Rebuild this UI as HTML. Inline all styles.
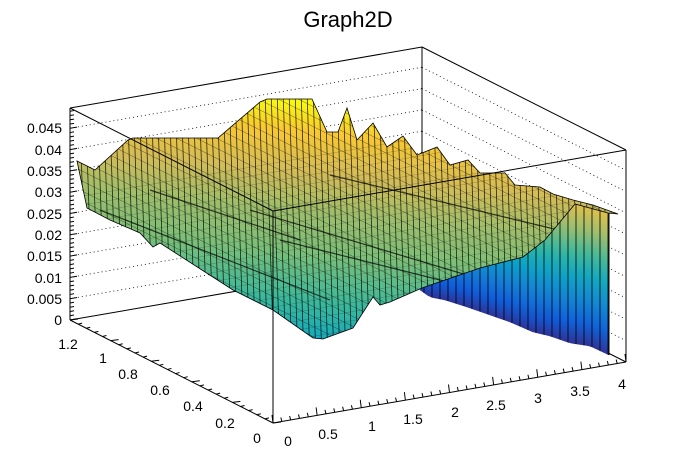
<!DOCTYPE html>
<html><head><meta charset="utf-8"><style>
html,body{margin:0;padding:0;background:#fff;width:696px;height:472px;overflow:hidden;}
svg{display:block;font-family:"Liberation Sans",sans-serif;}
</style></head><body>
<svg id="s" width="696" height="472" viewBox="0 0 696 472" xmlns="http://www.w3.org/2000/svg">
<defs>
<linearGradient id="sg" gradientUnits="userSpaceOnUse" x1="263" y1="481" x2="300" y2="100">
<stop offset="0" stop-color="#352a87"/>
<stop offset="0.25" stop-color="#1481d6"/>
<stop offset="0.37" stop-color="#12a8c0"/>
<stop offset="0.475" stop-color="#3ab89c"/>
<stop offset="0.606" stop-color="#7abf78"/>
<stop offset="0.71" stop-color="#9cbe6c"/>
<stop offset="0.816" stop-color="#d4bc58"/>
<stop offset="0.92" stop-color="#f8c834"/>
<stop offset="1" stop-color="#f9fb0e"/>
</linearGradient>
<clipPath id="cp"><polygon id="cpp"/></clipPath>
</defs>
<text x="348" y="27" font-size="22" text-anchor="middle">Graph2D</text>
<g id="grid" stroke="#000" stroke-width="0.8" stroke-dasharray="1,3" fill="none"></g>
<g stroke="#000" stroke-width="1" fill="none">
<line x1="70" y1="320" x2="422" y2="259"/>
<line x1="422" y1="259" x2="626" y2="362"/>
<line x1="422" y1="47" x2="422" y2="259"/>
</g>
<g id="wall"></g>
<polygon id="surf" fill="url(#sg)" stroke="#000" stroke-width="0.8"/>
<g id="mesh" clip-path="url(#cp)" stroke="#000" fill="none"></g>
<g stroke="#000" stroke-width="1" fill="none">
<line x1="70" y1="108" x2="70" y2="320"/>
<line x1="70" y1="320" x2="273" y2="423"/>
<line x1="273" y1="423" x2="626" y2="362"/>
<line x1="626" y1="362" x2="626" y2="150"/>
<line x1="70" y1="108" x2="422" y2="47"/>
<line x1="422" y1="47" x2="626" y2="150"/>
<line x1="70" y1="108" x2="273" y2="211"/>
<line x1="273" y1="211" x2="626" y2="150"/>
<line x1="273" y1="211" x2="273" y2="423"/>
</g>
<g id="ticks" stroke="#000" stroke-width="1"></g>
<g font-size="14" text-anchor="end">
<text x="62" y="325">0</text><text x="62" y="304">0.005</text><text x="62" y="283">0.01</text>
<text x="62" y="261">0.015</text><text x="62" y="240">0.02</text><text x="62" y="219">0.025</text>
<text x="62" y="197">0.03</text><text x="62" y="176">0.035</text><text x="62" y="155">0.04</text>
<text x="62" y="133">0.045</text>
</g>
<g font-size="14" text-anchor="middle">
<text x="257" y="443">0</text><text x="225" y="428">0.2</text><text x="193" y="411">0.4</text>
<text x="160" y="395">0.6</text><text x="128" y="379">0.8</text><text x="103" y="363">1</text>
<text x="68" y="349">1.2</text>
<text x="288" y="446">0</text><text x="328" y="439">0.5</text><text x="372" y="431">1</text>
<text x="413" y="424">1.5</text><text x="455" y="417">2</text><text x="496" y="410">2.5</text>
<text x="538" y="403">3</text><text x="580" y="396">3.5</text><text x="622" y="389">4</text>
</g>
</svg>
<script>
(function(){
var NS="http://www.w3.org/2000/svg";
function el(t,a,p){var e=document.createElementNS(NS,t);for(var k in a)e.setAttribute(k,a[k]);p.appendChild(e);return e;}
var g=document.getElementById('grid');
for(var k=1;k<=9;k++){var y=320-k*21.3;
 el('line',{x1:70,y1:y,x2:422,y2:y-61},g);
 el('line',{x1:422,y1:y-61,x2:626,y2:y+42},g);}
var tk=document.getElementById('ticks');
for(var k=0;k<=49;k++){var y=320-k*4.26;el('line',{x1:70,y1:y,x2:70+(k%5==0?7:4),y2:y-(k%5==0?1.2:0.7)},tk);}
for(var k=0;k<=40;k++){var f=k/40;var x=273+353*f,y=423-61*f;el('line',{x1:x,y1:y,x2:x-1,y2:y-(k%5==0?8:4)},tk);}
for(var k=0;k<=25;k++){var f=k/25;var x=273-203*f,y=423-103*f;el('line',{x1:x,y1:y,x2:x+(k%5==0?8:4),y2:y-1},tk);}
var P=[[53,42,135],[15,92,221],[20,129,214],[6,164,202],[46,183,164],[135,191,119],[209,187,89],[254,200,50],[249,251,14]];
function col(t){t=Math.max(0,Math.min(1,t))*8;var i=Math.min(7,Math.floor(t)),f=t-i;var a=P[i],b=P[i+1];
 return 'rgb('+[0,1,2].map(function(j){return Math.round(a[j]+(b[j]-a[j])*f)}).join(',')+')';}
var topE=[[77,161],[95,170],[128,140],[133,138],[218,138],[260,102],[267,99],[312,99],[327,132],[338,132],[347,108],[357,140],[373,123],[387,147],[403,136],[417,155],[437,147],[450,165],[468,160],[480,173],[505,173],[515,185],[540,187],[553,194],[573,200],[593,205],[618,214]];
var botE=[[608,213],[575,204],[545,240],[523,257],[480,268],[445,280],[422,288],[390,302],[380,305],[373,297],[353,328],[323,339],[313,338],[273,310],[233,290],[160,243],[153,247],[140,233],[110,220],[87,208]];
var pts=topE.concat(botE);var ps=pts.map(function(p){return p.join(',')}).join(' ');
document.getElementById('surf').setAttribute('points',ps);
document.getElementById('cpp').setAttribute('points',ps);
var m=document.getElementById('mesh');
for(var x=60;x<640;x+=6){el('line',{x1:x,y1:60,x2:x+10,y2:360,'stroke-width':0.8,'stroke-opacity':0.8},m);}
for(var c=-400;c<200;c+=10){el('line',{x1:60,y1:160+c,x2:640,y2:160+c+290,'stroke-width':0.5,'stroke-opacity':0.55},m);}
for(var c=0;c<300;c+=9){el('line',{x1:60,y1:200+c,x2:640,y2:200+c-100,'stroke-width':0.4,'stroke-opacity':0.35},m);}
[[150,190,300,240],[250,210,500,285],[280,240,520,300],[330,175,600,240],[100,210,330,300]].forEach(function(l){
 el('line',{x1:l[0],y1:l[1],x2:l[2],y2:l[3],'stroke-width':1.2,'stroke-opacity':0.7},m);});
function interp(arr,x){for(var i=0;i<arr.length-1;i++){var a=arr[i],b=arr[i+1];if(x>=a[0]&&x<=b[0]){return a[1]+(b[1]-a[1])*(x-a[0])/(b[0]-a[0]);}}return arr[arr.length-1][1];}
var wt=[[420,288],[445,280],[480,268],[523,257],[545,240],[575,204],[609,213]];
var wb=[[420,290],[430,297],[445,300],[467,307],[490,315],[510,322],[533,332],[550,336],[570,343],[590,346],[609,355]];
var w=document.getElementById('wall');var defs=document.querySelector('defs');var n=0;
for(var x=420;x<609;x+=4){var x2=Math.min(609,x+4);
 var t1=interp(wt,x),t2=interp(wt,x2),b1=interp(wb,x),b2=interp(wb,x2);
 var h=((b1-t1)+(b2-t2))/2;var id='wg'+(n++);
 var tt=0.05+h/150*0.8;
 var lg=el('linearGradient',{id:id,x1:0,y1:1,x2:0,y2:0},defs);
 for(var s=0;s<=6;s++){el('stop',{offset:s/6,'stop-color':col(0.02+(tt-0.02)*s/6)},lg);}
 el('polygon',{points:x+','+t1+' '+x2+','+t2+' '+x2+','+b2+' '+x+','+b1,fill:'url(#'+id+')',stroke:'url(#'+id+')','stroke-width':0.5},w);
 if(n%2==0)el('line',{x1:x,y1:t1,x2:x,y2:b1,stroke:'#000','stroke-width':0.8},w);
}
el('line',{x1:609,y1:213,x2:609,y2:355,stroke:'#000','stroke-width':1},w);
})();
</script>
</body></html>
